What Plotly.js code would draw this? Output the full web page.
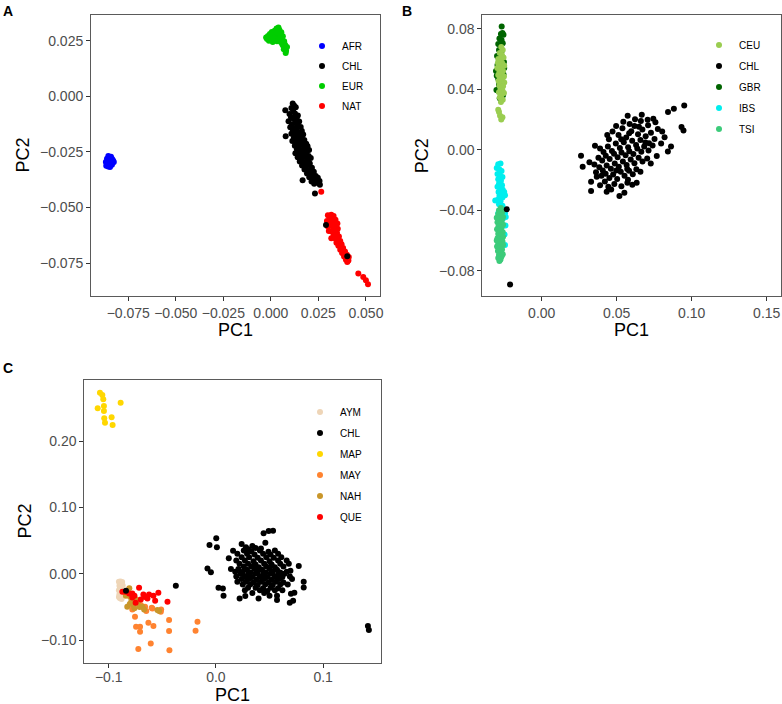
<!DOCTYPE html>
<html>
<head>
<meta charset="utf-8">
<script src="https://cdn.plot.ly/plotly-3.0.1.min.js"></script>
<style>html,body{margin:0;padding:0;background:#fff;}#chart{width:782px;height:704px;}</style>
</head>
<body>
<div id="chart"></div>
<script>
// ---------------- Panel A ----------------
const A_AFR_x = [-0.0868,-0.0862,-0.0855,-0.0850,-0.0845,-0.0840,-0.0835,-0.0830,-0.0826,-0.0858,-0.0848,-0.0838,-0.0852,-0.0843,-0.0866,-0.0836,-0.0856,-0.0846,-0.0862,-0.0832,-0.0850,-0.0841,-0.0855,-0.0845,-0.0838];
const A_AFR_y = [-0.0295,-0.0280,-0.0268,-0.0275,-0.0285,-0.0290,-0.0282,-0.0288,-0.0295,-0.0305,-0.0310,-0.0300,-0.0292,-0.0298,-0.0312,-0.0308,-0.0315,-0.0318,-0.0300,-0.0298,-0.0283,-0.0272,-0.0290,-0.0302,-0.0285];
const A_EUR_x = [-0.0025,-0.0020,-0.0015,-0.0010,-0.0005,0.0000,0.0005,0.0010,0.0012,0.0018,0.0020,0.0025,0.0030,0.0032,0.0035,0.0040,0.0042,0.0045,0.0050,0.0052,0.0055,0.0058,0.0060,0.0063,0.0065,0.0070,0.0072,0.0075,0.0080,0.0078,0.0068,0.0085];
const A_EUR_y = [0.0265,0.0258,0.0272,0.0250,0.0280,0.0262,0.0290,0.0245,0.0275,0.0255,0.0295,0.0268,0.0305,0.0248,0.0285,0.0310,0.0262,0.0298,0.0275,0.0245,0.0288,0.0258,0.0235,0.0270,0.0228,0.0248,0.0215,0.0232,0.0205,0.0195,0.0212,0.0222];
const A_NAT_x = [0.0300,0.0318,0.0330,0.0312,0.0325,0.0340,0.0295,0.0308,0.0322,0.0335,0.0350,0.0300,0.0315,0.0328,0.0342,0.0352,0.0305,0.0320,0.0335,0.0348,0.0330,0.0345,0.0358,0.0318,0.0340,0.0352,0.0365,0.0345,0.0360,0.0372,0.0355,0.0368,0.0380,0.0365,0.0378,0.0390,0.0375,0.0388,0.0400,0.0385,0.0398,0.0410,0.0395,0.0408,0.0402,0.0265,0.0460,0.0486,0.0500,0.0511];
const A_NAT_y = [-0.0535,-0.0532,-0.0538,-0.0548,-0.0552,-0.0555,-0.0560,-0.0565,-0.0568,-0.0570,-0.0572,-0.0585,-0.0582,-0.0588,-0.0590,-0.0595,-0.0605,-0.0608,-0.0610,-0.0615,-0.0625,-0.0628,-0.0630,-0.0638,-0.0640,-0.0645,-0.0650,-0.0658,-0.0662,-0.0665,-0.0672,-0.0678,-0.0682,-0.0690,-0.0695,-0.0698,-0.0705,-0.0710,-0.0712,-0.0720,-0.0725,-0.0722,-0.0735,-0.0738,-0.0745,-0.0429,-0.0797,-0.0812,-0.0827,-0.0845];
const A_CHL_x = [0.0115,0.0122,0.0108,0.0131,0.0076,0.0117,0.0098,0.0127,0.0142,0.0106,0.0119,0.0136,0.0093,0.0128,0.0149,0.0111,0.0139,0.0102,0.0124,0.0157,0.0116,0.0134,0.0146,0.0163,0.0108,0.0128,0.0078,0.0152,0.0170,0.0121,0.0141,0.0161,0.0176,0.0113,0.0133,0.0150,0.0168,0.0186,0.0126,0.0145,0.0159,0.0178,0.0193,0.0137,0.0156,0.0171,0.0189,0.0201,0.0129,0.0148,0.0166,0.0182,0.0199,0.0141,0.0160,0.0176,0.0194,0.0210,0.0152,0.0171,0.0188,0.0205,0.0164,0.0183,0.0199,0.0216,0.0177,0.0195,0.0212,0.0226,0.0190,0.0208,0.0223,0.0236,0.0202,0.0219,0.0167,0.0233,0.0247,0.0214,0.0241,0.0256,0.0228,0.0258,0.0232,0.0290,0.0402];
const A_CHL_y = [-0.0032,-0.0041,-0.0052,-0.0049,-0.0062,-0.0066,-0.0079,-0.0077,-0.0086,-0.0094,-0.0101,-0.0097,-0.0112,-0.0117,-0.0113,-0.0126,-0.0131,-0.0139,-0.0143,-0.0138,-0.0154,-0.0151,-0.0162,-0.0156,-0.0168,-0.0171,-0.0179,-0.0178,-0.0172,-0.0186,-0.0192,-0.0189,-0.0196,-0.0201,-0.0207,-0.0210,-0.0204,-0.0213,-0.0222,-0.0226,-0.0219,-0.0231,-0.0224,-0.0238,-0.0244,-0.0240,-0.0249,-0.0241,-0.0256,-0.0259,-0.0263,-0.0257,-0.0268,-0.0274,-0.0279,-0.0272,-0.0284,-0.0277,-0.0293,-0.0297,-0.0291,-0.0302,-0.0311,-0.0316,-0.0309,-0.0321,-0.0329,-0.0334,-0.0328,-0.0339,-0.0347,-0.0353,-0.0346,-0.0358,-0.0364,-0.0369,-0.0377,-0.0374,-0.0366,-0.0383,-0.0387,-0.0381,-0.0393,-0.0398,-0.0437,-0.0579,-0.0719];
const A_ticks_x = [-0.075,-0.05,-0.025,0,0.025,0.05];
const A_ticktext_x = ["\u22120.075","\u22120.050","\u22120.025","0.000","0.025","0.050"];
const A_ticks_y = [0.025,0,-0.025,-0.05,-0.075];
const A_ticktext_y = ["0.025","0.000","\u22120.025","\u22120.050","\u22120.075"];
// ---------------- Panel B ----------------
const B_GBR_x = [-0.0267,-0.0272,-0.0262,-0.0282,-0.0268,-0.0255,-0.0290,-0.0275,-0.0260,-0.0285,-0.0270,-0.0298,-0.0280,-0.0295,-0.0305,-0.0300,-0.0290,-0.0252,-0.0255,-0.0285,-0.0302,-0.0280,-0.0258,-0.0292,-0.0250];
const B_GBR_y = [0.0815,0.0765,0.0772,0.0735,0.0725,0.0760,0.0700,0.0688,0.0705,0.0660,0.0645,0.0620,0.0605,0.0560,0.0520,0.0490,0.0470,0.0580,0.0500,0.0430,0.0395,0.0340,0.0360,0.0390,0.0540];
const B_CEU_x = [-0.0270,-0.0260,-0.0280,-0.0265,-0.0290,-0.0255,-0.0275,-0.0292,-0.0262,-0.0285,-0.0250,-0.0270,-0.0296,-0.0258,-0.0282,-0.0268,-0.0290,-0.0252,-0.0275,-0.0262,-0.0288,-0.0250,-0.0270,-0.0282,-0.0258,-0.0275,-0.0262,-0.0285,-0.0252,-0.0270,-0.0280,-0.0260,-0.0272,-0.0290,-0.0285,-0.0262,-0.0270,-0.0278,-0.0268,-0.0278];
const B_CEU_y = [0.0680,0.0660,0.0640,0.0625,0.0600,0.0610,0.0590,0.0575,0.0570,0.0555,0.0555,0.0540,0.0540,0.0520,0.0515,0.0500,0.0495,0.0485,0.0475,0.0460,0.0455,0.0445,0.0440,0.0425,0.0420,0.0405,0.0390,0.0380,0.0375,0.0360,0.0345,0.0330,0.0315,0.0265,0.0250,0.0215,0.0200,0.0225,0.0605,0.0470];
const B_IBS_x = [-0.0290,-0.0275,-0.0300,-0.0282,-0.0268,-0.0295,-0.0278,-0.0262,-0.0290,-0.0272,-0.0285,-0.0265,-0.0295,-0.0278,-0.0260,-0.0288,-0.0270,-0.0250,-0.0282,-0.0262,-0.0310,-0.0292,-0.0275,-0.0245,-0.0285,-0.0262,-0.0250,-0.0275,-0.0245,-0.0240,-0.0258,-0.0242,-0.0248,-0.0245,-0.0290];
const B_IBS_y = [-0.0095,-0.0090,-0.0120,-0.0130,-0.0140,-0.0160,-0.0170,-0.0180,-0.0195,-0.0205,-0.0225,-0.0235,-0.0245,-0.0255,-0.0265,-0.0280,-0.0290,-0.0280,-0.0305,-0.0315,-0.0335,-0.0330,-0.0340,-0.0300,-0.0360,-0.0370,-0.0395,-0.0400,-0.0420,-0.0445,-0.0455,-0.0500,-0.0560,-0.0630,-0.0420];
const B_TSI_x = [-0.0272,-0.0285,-0.0262,-0.0290,-0.0270,-0.0258,-0.0285,-0.0265,-0.0295,-0.0275,-0.0258,-0.0288,-0.0268,-0.0298,-0.0278,-0.0260,-0.0290,-0.0272,-0.0258,-0.0295,-0.0280,-0.0262,-0.0290,-0.0270,-0.0258,-0.0298,-0.0280,-0.0265,-0.0292,-0.0275,-0.0285,-0.0268,-0.0290,-0.0275,-0.0282,-0.0300,-0.0300,-0.0260];
const B_TSI_y = [-0.0385,-0.0400,-0.0410,-0.0425,-0.0435,-0.0445,-0.0455,-0.0465,-0.0480,-0.0485,-0.0495,-0.0505,-0.0515,-0.0525,-0.0535,-0.0545,-0.0555,-0.0565,-0.0575,-0.0585,-0.0595,-0.0605,-0.0615,-0.0625,-0.0630,-0.0640,-0.0650,-0.0660,-0.0670,-0.0680,-0.0695,-0.0705,-0.0715,-0.0725,-0.0735,-0.0600,-0.0450,-0.0690];
const B_CHL_x = [0.0950,0.0881,0.0842,0.0932,0.0945,0.0744,0.0661,0.0544,0.0586,0.0803,0.0862,0.0796,0.0767,0.0727,0.0633,0.0571,0.0551,0.0518,0.0433,0.0444,0.0367,0.0329,0.0329,0.0273,0.0262,0.0355,0.0437,0.0448,0.0472,0.0512,0.0538,0.0563,0.0597,0.0618,0.0642,0.0671,0.0693,0.0709,0.0728,0.0752,0.0774,0.0691,0.0658,0.0629,0.0603,0.0576,0.0547,0.0521,0.0494,0.0468,0.0441,0.0412,0.0389,0.0378,0.0403,0.0427,0.0453,0.0482,0.0506,0.0532,0.0559,0.0584,0.0611,0.0637,0.0664,0.0683,0.0712,0.0739,0.0703,0.0672,0.0646,0.0618,0.0593,0.0566,0.0541,0.0514,0.0487,0.0461,0.0433,0.0407,0.0384,0.0351,0.0318,0.0362,0.0398,0.0426,0.0451,0.0476,0.0503,0.0527,0.0552,0.0582,0.0607,0.0631,0.0658,0.0484,0.0421,0.0531,0.0604,0.0389,0.0463,0.0575,0.0622,0.0715,0.0758,0.0819,0.0841,0.0496,0.0573,0.0667,0.0706,0.0583,0.0648,0.0530,0.0497,0.0570,-0.0233,-0.0211];
const B_CHL_y = [0.0292,0.0271,0.0249,0.0150,0.0128,0.0205,0.0190,0.0186,0.0171,0.0121,0.0021,0.0042,-0.0042,-0.0090,-0.0218,-0.0218,-0.0284,-0.0306,-0.0278,-0.0245,-0.0178,-0.0212,-0.0273,-0.0112,-0.0040,0.0026,0.0097,0.0070,0.0121,0.0098,0.0143,0.0081,0.0122,0.0157,0.0103,0.0134,0.0089,0.0162,0.0113,0.0071,0.0138,0.0048,0.0065,0.0031,0.0059,0.0017,0.0049,0.0012,0.0041,-0.0008,0.0022,-0.0015,0.0009,-0.0052,-0.0071,-0.0039,-0.0061,-0.0027,-0.0049,-0.0018,-0.0036,-0.0009,-0.0028,0.0008,-0.0013,0.0022,-0.0004,0.0029,-0.0058,-0.0077,-0.0052,-0.0089,-0.0064,-0.0101,-0.0078,-0.0112,-0.0091,-0.0126,-0.0104,-0.0137,-0.0115,-0.0098,-0.0083,-0.0149,-0.0172,-0.0158,-0.0187,-0.0164,-0.0193,-0.0146,-0.0171,-0.0139,-0.0162,-0.0128,-0.0146,-0.0226,-0.0209,-0.0242,-0.0231,-0.0234,-0.0262,-0.0199,0.0201,0.0043,0.0182,0.0083,-0.0012,0.0157,0.0225,0.0231,0.0198,0.0110,0.0152,0.0069,-0.0137,-0.0127,-0.0394,-0.0890];
const B_ticks_x = [0,0.05,0.10,0.15];
const B_ticktext_x = ["0.00","0.05","0.10","0.15"];
const B_ticks_y = [0.08,0.04,0,-0.04,-0.08];
const B_ticktext_y = ["0.08","0.04","0.00","\u22120.04","\u22120.08"];
// ---------------- Panel C ----------------
const C_MAP_x = [-0.1082,-0.1060,-0.1051,-0.1103,-0.1045,-0.1045,-0.1042,-0.1035,-0.0973,-0.0964,-0.0889];
const C_MAP_y = [0.273,0.2695,0.263,0.2494,0.2529,0.2453,0.2343,0.2277,0.2358,0.2242,0.2579];
const C_AYM_x = [-0.0905,-0.0890,-0.0875,-0.0900,-0.0885,-0.0870,-0.0905,-0.0892,-0.0878,-0.0900,-0.0885,-0.0870,-0.0895,-0.0880,-0.0905];
const C_AYM_y = [-0.0120,-0.0115,-0.0125,-0.0180,-0.0185,-0.0175,-0.0250,-0.0240,-0.0255,-0.0310,-0.0320,-0.0300,-0.0370,-0.0380,-0.0350];
const C_NAH_x = [-0.0808,-0.0827,-0.0804,-0.0790,-0.0770,-0.0750,-0.0730,-0.0712,-0.0686,-0.0670,-0.0546,-0.0530,-0.0800,-0.0760,-0.0720,-0.0840];
const C_NAH_y = [-0.0220,-0.0497,-0.0457,-0.0420,-0.0470,-0.0380,-0.0440,-0.0500,-0.0497,-0.0537,-0.0547,-0.0560,-0.0350,-0.0520,-0.0400,-0.0330];
const C_MAY_x = [-0.0755,-0.0745,-0.0708,-0.0724,-0.0630,-0.0583,-0.0608,-0.0437,-0.0437,-0.0434,-0.0190,-0.0172,-0.0511,-0.0599,-0.0771,-0.0661,-0.0708,-0.0780,-0.0593,-0.0514,-0.0700,-0.0650];
const C_MAY_y = [-0.0648,-0.0799,-0.0875,-0.1135,-0.0739,-0.0789,-0.1050,-0.0698,-0.0864,-0.1151,-0.0860,-0.0724,-0.0537,-0.0513,-0.0522,-0.0497,-0.0799,-0.0537,-0.0522,-0.0573,-0.0470,-0.0560];
const C_QUE_x = [-0.0873,-0.0717,-0.0780,-0.0677,-0.0624,-0.0583,-0.0537,-0.0567,-0.0452,-0.0749,-0.0780,-0.0701,-0.0639,-0.0810,-0.0842,-0.0760,-0.0660];
const C_QUE_y = [-0.0271,-0.0211,-0.0296,-0.0311,-0.0311,-0.0332,-0.0287,-0.0407,-0.0422,-0.0437,-0.0356,-0.0386,-0.0371,-0.0296,-0.0271,-0.0330,-0.0350];
const C_CHL_x = [0.0492,0.0533,0.0445,0.0003,0.0461,-0.0060,0.0240,0.0340,0.0280,0.0009,0.0370,0.0420,0.0300,0.0160,0.0260,0.0330,0.0410,0.0490,0.0550,0.0200,0.0290,0.0360,0.0440,0.0510,0.0580,0.0120,0.0240,0.0310,0.0390,0.0470,0.0540,0.0610,0.0190,0.0270,0.0350,0.0420,0.0500,0.0580,0.0660,0.0220,0.0300,0.0370,0.0450,0.0520,0.0600,0.0680,0.0260,0.0330,0.0400,0.0470,0.0550,0.0630,0.0773,0.0140,0.0210,0.0290,0.0360,0.0430,0.0500,0.0570,0.0695,-0.0079,0.0180,0.0250,0.0320,0.0390,0.0460,0.0530,0.0600,0.0660,-0.0047,0.0230,0.0300,0.0370,0.0440,0.0510,0.0580,0.0640,0.0190,0.0270,0.0340,0.0410,0.0480,0.0550,0.0620,0.0690,0.0240,0.0310,0.0380,0.0450,0.0520,0.0590,0.0710,0.0200,0.0280,0.0350,0.0420,0.0490,0.0560,0.0630,0.0819,0.0250,0.0320,0.0390,0.0460,0.0530,0.0600,0.0670,0.0024,0.0065,0.0300,0.0370,0.0440,0.0510,0.0580,0.0819,0.0270,0.0410,0.0480,0.0550,0.0620,0.0340,0.0450,0.0732,0.0700,0.0071,0.0274,0.0500,0.0570,0.0221,0.0398,0.0570,0.0689,0.0720,0.1418,0.1427,-0.0374,-0.0839];
const C_CHL_y = [0.0644,0.0648,0.0609,0.0534,0.0468,0.0433,0.0448,0.0420,0.0400,0.0398,0.0390,0.0380,0.0370,0.0347,0.0350,0.0340,0.0350,0.0330,0.0350,0.0300,0.0300,0.0290,0.0300,0.0290,0.0300,0.0232,0.0250,0.0250,0.0240,0.0250,0.0240,0.0250,0.0200,0.0200,0.0190,0.0200,0.0190,0.0200,0.0200,0.0150,0.0150,0.0140,0.0150,0.0140,0.0150,0.0150,0.0110,0.0110,0.0100,0.0110,0.0100,0.0110,0.0116,0.0070,0.0070,0.0060,0.0070,0.0060,0.0070,0.0060,0.0045,0.0081,0.0030,0.0030,0.0020,0.0030,0.0020,0.0030,0.0020,0.0030,0.0021,0.0000,-0.0010,0.0000,-0.0010,0.0000,-0.0010,0.0000,-0.0040,-0.0040,-0.0050,-0.0040,-0.0050,-0.0040,-0.0050,-0.0040,-0.0080,-0.0080,-0.0090,-0.0080,-0.0090,-0.0080,-0.0080,-0.0120,-0.0120,-0.0130,-0.0120,-0.0130,-0.0120,-0.0130,-0.0121,-0.0160,-0.0160,-0.0170,-0.0160,-0.0170,-0.0160,-0.0160,-0.0211,-0.0221,-0.0210,-0.0210,-0.0220,-0.0210,-0.0220,-0.0206,-0.0250,-0.0250,-0.0260,-0.0250,-0.0250,-0.0290,-0.0290,-0.0286,-0.0300,-0.0332,-0.0336,-0.0330,-0.0330,-0.0372,-0.0372,-0.0397,-0.0437,-0.0407,-0.0789,-0.0849,-0.0180,-0.0256];
const C_ticks_x = [-0.1,0,0.1];
const C_ticktext_x = ["\u22120.1","0.0","0.1"];
const C_ticks_y = [0.2,0.1,0,-0.1];
const C_ticktext_y = ["0.20","0.10","0.00","\u22120.10"];
const axisTitles = ["PC1", "PC2"];

const FONT = "Liberation Sans, Arial, Helvetica, sans-serif";
const W = 782, H = 704;
function pts(x, y, name, color, xa, ya, leg, rank) {
  return {type:'scatter', mode:'markers', x:x, y:y, name:name, xaxis:xa, yaxis:ya,
    legend:leg, legendrank:rank, legendgroup: leg + name,
    marker:{color:color, size:6, line:{width:0}}, hoverinfo:'x+y+name'};
}
const data = [
  pts(A_AFR_x, A_AFR_y, 'AFR', '#0000FF', 'x', 'y', 'legend', 1),
  pts(A_EUR_x, A_EUR_y, 'EUR', '#00CD00', 'x', 'y', 'legend', 3),
  pts(A_NAT_x, A_NAT_y, 'NAT', '#FF0000', 'x', 'y', 'legend', 4),
  pts(A_CHL_x, A_CHL_y, 'CHL', '#000000', 'x', 'y', 'legend', 2),
  pts(B_GBR_x, B_GBR_y, 'GBR', '#006400', 'x2', 'y2', 'legend2', 3),
  pts(B_CEU_x, B_CEU_y, 'CEU', '#9ACD50', 'x2', 'y2', 'legend2', 1),
  pts(B_IBS_x, B_IBS_y, 'IBS', '#00EEEE', 'x2', 'y2', 'legend2', 4),
  pts(B_TSI_x, B_TSI_y, 'TSI', '#3CCB7A', 'x2', 'y2', 'legend2', 5),
  pts(B_CHL_x, B_CHL_y, 'CHL', '#000000', 'x2', 'y2', 'legend2', 2),
  pts(C_MAP_x, C_MAP_y, 'MAP', '#FFD700', 'x3', 'y3', 'legend3', 3),
  pts(C_AYM_x, C_AYM_y, 'AYM', '#EED5B7', 'x3', 'y3', 'legend3', 1),
  pts(C_MAY_x, C_MAY_y, 'MAY', '#FF8330', 'x3', 'y3', 'legend3', 4),
  pts(C_NAH_x, C_NAH_y, 'NAH', '#C9962A', 'x3', 'y3', 'legend3', 5),
  pts(C_QUE_x, C_QUE_y, 'QUE', '#FF0000', 'x3', 'y3', 'legend3', 6),
  pts(C_CHL_x, C_CHL_y, 'CHL', '#000000', 'x3', 'y3', 'legend3', 2)
];
function ax(range, domain, tv, tt, anchor, lblShift) {
  return {range:range, domain:domain, anchor:anchor, tickvals:tv, ticktext:tt,
    showgrid:false, zeroline:false, showline:true, mirror:true, linecolor:'#5a5a5a', linewidth:1,
    ticks:'outside', ticklen:4, tickwidth:1, tickcolor:'#333333', ticklabelstandoff:lblShift || 0,
    tickfont:{family:FONT, size:14, color:'#4D4D4D'}, fixedrange:true};
}
function leg(x, y, gap) {
  return {x:x, y:y, xanchor:'left', yanchor:'top', bgcolor:'rgba(255,255,255,0)',
    font:{family:FONT, size:10, color:'#000000'}, traceorder:'grouped', itemsizing:'trace',
    tracegroupgap:gap};
}
function title(text, px, py, rot) {
  return {text:text, x:px / W, y:1 - py / H, xref:'paper', yref:'paper', xanchor:'center', yanchor:'middle',
    textangle:rot, showarrow:false, font:{family:FONT, size:18, color:'#000000'}};
}
function letter(text, px, py) {
  return {text:'<b>' + text + '</b>', x:px / W, y:1 - py / H, xref:'paper', yref:'paper', xanchor:'left', yanchor:'top',
    showarrow:false, font:{family:FONT, size:14, color:'#000'}};
}
const layout = {
  width:W, height:H, margin:{l:0, r:0, t:0, b:0},
  paper_bgcolor:'#ffffff', plot_bgcolor:'#ffffff',
  xaxis: ax([-0.0946, 0.0574], [0.1164, 0.4859], A_ticks_x, A_ticktext_x, 'y'),
  yaxis: ax([-0.0898, 0.0366], [0.5795, 0.9787], A_ticks_y, A_ticktext_y, 'x'),
  xaxis2: ax([-0.0396, 0.1593], [0.6168, 0.9983], B_ticks_x, B_ticktext_x, 'y2'),
  yaxis2: ax([-0.0967, 0.0891], [0.5795, 0.9787], B_ticks_y, B_ticktext_y, 'x2'),
  xaxis3: ax([-0.1228, 0.154], [0.1078, 0.4872], C_ticks_x, C_ticktext_x, 'y3', -2),
  yaxis3: ax([-0.134, 0.292], [0.0587, 0.4602], C_ticks_y, C_ticktext_y, 'x3'),
  legend: leg(302/W, 1 - 31.5/H, 1),
  legend2: leg(699/W, 1 - 30.5/H, 2),
  legend3: leg(300/W, 1 - 397.5/H, 2),
  annotations: [
    letter('A', 1, 1), letter('B', 400, 1), letter('C', 1, 358),
    title(axisTitles[0], 235.5, 330, 0), title(axisTitles[1], 22, 155.5, -90),
    title(axisTitles[0], 631.5, 330, 0), title(axisTitles[1], 421.7, 155.5, -90),
    title(axisTitles[0], 232.7, 695, 0), title(axisTitles[1], 25, 521.4, -90)
  ]
};
Plotly.newPlot('chart', data, layout, {staticPlot:true, displayModeBar:false});
</script>
</body>
</html>
